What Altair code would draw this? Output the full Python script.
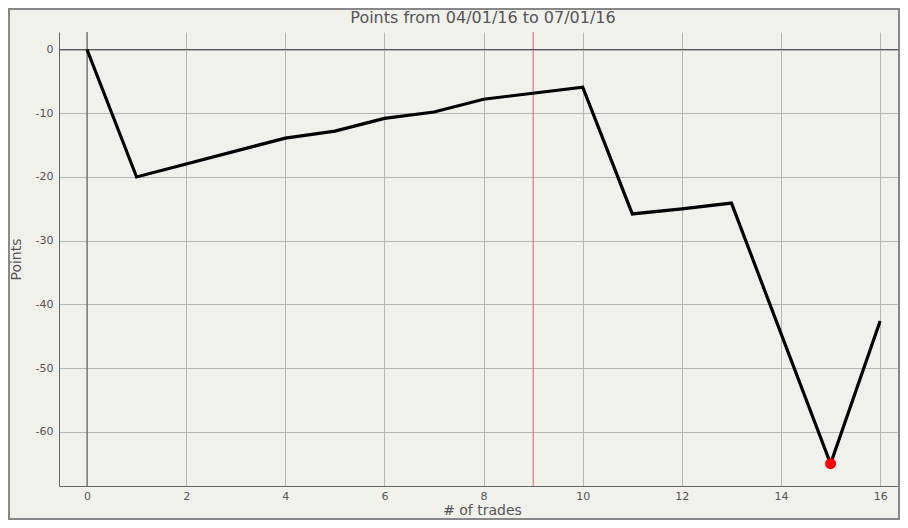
import altair as alt
import pandas as pd

trades = [0, 1, 4, 5, 6, 7, 8, 10, 11, 12, 13, 15, 16]
points = [0.0, -20.0, -13.9, -12.8, -10.8, -9.8, -7.8, -5.9, -25.8, -25.0, -24.1, -65.0, -42.6]

min_trade = [15]
min_point = [-65.0]

marker_trade = [9]
x_ticks = [0, 2, 4, 6, 8, 10, 12, 14, 16]
y_ticks = [-60, -50, -40, -30, -20, -10, 0]
title_text = ["Points from 04/01/16 to 07/01/16"]

df = pd.DataFrame({"trade": trades, "points": points})
df_min = pd.DataFrame({"trade": min_trade, "points": min_point})
df_mark = pd.DataFrame({"trade": marker_trade})
df_zero = pd.DataFrame({"v": [0]})
df_title = pd.DataFrame({"t": title_text})

FONT = "DejaVu Sans"
TXT = "#555555"

xs = alt.Scale(domain=[-0.565, 16.38], nice=False, zero=False)
ys = alt.Scale(domain=[-68.5, 2.75], nice=False, zero=False)

x_axis = alt.Axis(values=x_ticks, title="# of trades", grid=True, gridColor="#b4b4b4",
                  ticks=False, labelPadding=4, domainColor="#666666", labelColor=TXT,
                  labelFontSize=11, labelFont=FONT, titleFont=FONT, titleFontSize=14,
                  titleFontWeight="normal", titleColor=TXT, titleY=17, titleX=423,
                  titleBaseline="top")
y_axis = alt.Axis(values=y_ticks, title="Points", grid=True, gridColor="#b4b4b4",
                  ticks=False, labelPadding=6, domainColor="#666666", labelColor=TXT,
                  labelFontSize=11, labelFont=FONT, titleFont=FONT, titleFontSize=14,
                  titleFontWeight="normal", titleColor=TXT, titleX=-43, titleY=227,
                  titleAngle=270, titleAlign="center", titleBaseline="middle",
                  labelExpr="'' + datum.value")

base = alt.Chart(df).mark_line(color="black", strokeWidth=3.2).encode(
    x=alt.X("trade:Q", scale=xs, axis=x_axis),
    y=alt.Y("points:Q", scale=ys, axis=y_axis),
)

zero_h = alt.Chart(df_zero).mark_rule(color="#555555", strokeWidth=1).encode(y=alt.Y("v:Q", scale=ys))
zero_v = alt.Chart(df_zero).mark_rule(color="#555555", strokeWidth=1).encode(x=alt.X("v:Q", scale=xs))
red_v = alt.Chart(df_mark).mark_rule(color="#e05a6a", strokeWidth=1).encode(x=alt.X("trade:Q", scale=xs))

dot = alt.Chart(df_min).mark_circle(color="#ff0000", opacity=1, size=120).encode(
    x=alt.X("trade:Q", scale=xs), y=alt.Y("points:Q", scale=ys)
)

title = alt.Chart(df_title).mark_text(font=FONT, fontSize=16, color=TXT, align="center",
                                      baseline="middle").encode(
    text="t:N", x=alt.value(424), y=alt.value(-14)
)

border = alt.Chart(df_zero).mark_rect(fill=None, stroke="#888888", strokeWidth=2, clip=False).encode(
    x=alt.value(-50), x2=alt.value(840), y=alt.value(-23), y2=alt.value(487)
)

chart = alt.layer(zero_v, red_v, zero_h, base, dot, title, border).properties(
    width=840, height=454,
    autosize=alt.AutoSizeParams(type="none"),
    padding={"left": 51, "top": 24, "right": 1, "bottom": 34},
    background="#f1f1ec",
).configure_view(stroke=None)

chart.save("out.html", embed_options={"renderer": "svg", "actions": False})
